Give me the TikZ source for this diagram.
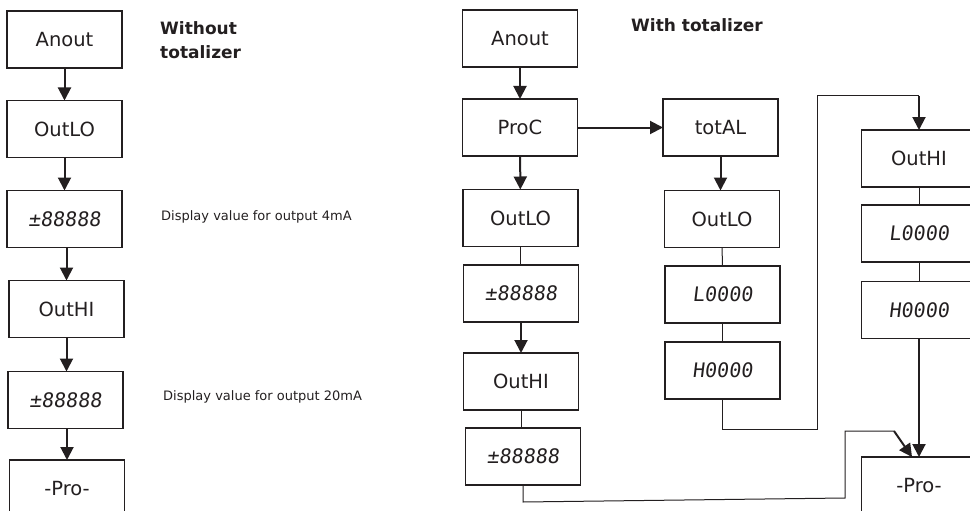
\documentclass[tikz,border=0pt]{standalone}
\usepackage{fontspec}
\setmainfont{DejaVu Sans}
\newfontfamily\lcdfont[FakeSlant=0.12]{DejaVu Sans Mono}
\usetikzlibrary{arrows.meta}
\definecolor{ink}{HTML}{231F20}
\tikzset{
  box/.style={draw=ink, line width=1.4pt, minimum width=115pt, minimum height=57pt,
    inner sep=0pt, outer sep=0pt, text=ink, font=\fontsize{19.5}{22}\selectfont},
  lcd/.style={box, font=\lcdfont\fontsize{20}{22}\selectfont},
  flow/.style={draw=ink, line width=2pt, -{Triangle[width=13pt,length=13pt]}},
  thinline/.style={draw=ink, line width=1pt},
  note/.style={text=ink, font=\fontsize{13}{15}\selectfont, anchor=west, inner sep=0pt},
  heading/.style={text=ink, font=\bfseries\fontsize{17}{24}\selectfont, align=left, inner sep=0pt}
}
\begin{document}
\begin{tikzpicture}[x=1pt,y=-1pt]
\useasboundingbox (0,0) rectangle (970,511);
\clip (0,0) rectangle (970,511);
% left column (without totalizer)
\node[box] (a1) at (64.5,39.5) {Anout};
\node[box] (b1) at (64.5,129) {OutLO};
\node[lcd] (c1) at (64.5,219) {±88888};
\node[box] (d1) at (66.5,309) {OutHI};
\node[lcd] (e1) at (65.5,400) {±88888};
\node[box] (f1) at (67,488.5) {-Pro-};
\node[heading, anchor=north west] (h1) at (160,21) {Without\\totalizer};
\node[note] (n1) at (161,217) {Display value for output 4mA};
\node[note] (n2) at (163,397) {Display value for output 20mA};
\draw[flow] (a1) -- (b1);
\draw[flow] (b1) -- (c1);
\draw[flow] (c1.south -| d1) -- (d1);
\draw[flow] (d1) -- (d1 |- e1.north);
\draw[flow] (e1.south -| f1) -- (f1);
% middle column (with totalizer)
\node[box] (a2) at (520,38.5) {Anout};
\node[box] (b2) at (520,127.5) {ProC};
\node[box] (c2) at (520.5,218) {OutLO};
\node[lcd] (d2) at (521,293.5) {±88888};
\node[box] (e2) at (521,381.5) {OutHI};
\node[lcd] (f2) at (523,456.5) {±88888};
\node[heading, anchor=north west] (h2) at (631,18) {With totalizer};
\draw[flow] (a2) -- (b2);
\draw[flow] (b2) -- (c2);
\draw[thinline] (c2) -- (c2 |- d2.north);
\draw[flow] (d2) -- (e2);
\draw[thinline] (e2) -- (e2 |- f2.north);
% totalizer column
\node[box] (g3) at (720.5,127.5) {totAL};
\node[box] (h3) at (722,219) {OutLO};
\node[lcd] (i3) at (722.5,294.5) {L0000};
\node[lcd] (j3) at (722.5,370.5) {H0000};
\draw[flow] (b2) -- (g3);
\draw[flow] (g3) -- (g3 |- h3.north);
\draw[thinline] (h3) -- (i3);
\draw[thinline] (i3) -- (j3);
% right column
\node[box] (k4) at (919,158.5) {OutHI};
\node[lcd] (l4) at (919,233.5) {L0000};
\node[lcd] (m4) at (919,310) {H0000};
\node[box] (p4) at (919,485.5) {-Pro-};
\draw[thinline] (k4) -- (l4);
\draw[thinline] (l4) -- (m4);
\draw[flow] (m4) -- (p4);
% routed connectors
\coordinate (r1) at (817,429);
\coordinate (r2) at (817,96);
\coordinate (r3) at (919,96);
\draw[thinline] (j3.south) |- (r1) -- (r2) -- (r3);
\draw[flow] (r3) -- (k4.north);
\coordinate (s1) at (523,502);
\coordinate (s2) at (845,498);
\coordinate (s3) at (845,431);
\coordinate (s4) at (894,431);
\draw[thinline] (f2.south) -- (s1) -- (s2) -- (s3) -- (s4);
\draw[flow] (s4) -- ([xshift=-7pt]p4.north);
\end{tikzpicture}
\end{document}
